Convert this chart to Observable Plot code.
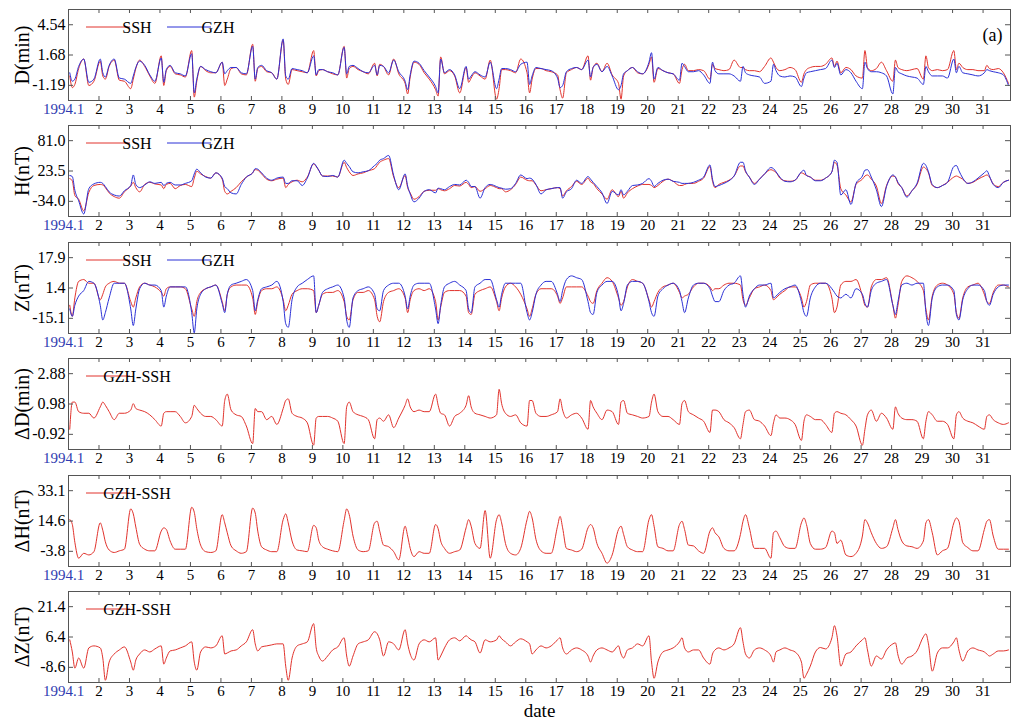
<!DOCTYPE html>
<html><head><meta charset="utf-8">
<script src="https://cdn.jsdelivr.net/npm/d3@7"></script>
<script src="https://cdn.jsdelivr.net/npm/@observablehq/plot@0.6"></script>
<style>
html,body{margin:0;padding:0;background:#fff;overflow:hidden}
#chart svg{display:block}
#chart svg, #chart svg text, #chart svg g { font-family: "Liberation Serif", "Times New Roman", serif !important; }
</style></head><body><div id="chart"></div>
<script>
// sampling hours (UT) within each day, 31 days of January 1994
const sampleHours = [1, 3, 5, 8, 12, 16, 20];
const dayTicks = [2,3,4,5,6,7,8,9,10,11,12,13,14,15,16,17,18,19,20,21,22,23,24,25,26,27,28,29,30,31];
const firstLabel = "1994.1";

const dTicks = [-1.19, 1.68, 4.54];
const hTicks = [-34.0, 23.5, 81.0];
const zTicks = [-15.1, 1.4, 17.9];
const ddTicks = [-0.92, 0.98, 2.88];
const dhTicks = [-3.8, 14.6, 33.1];
const dzTicks = [-8.6, 6.4, 21.4];

const dSSH = [
-0.3,-1.4,-1.1,0.4,1.3,-1.2,-0.8,
1.1,-0.3,-0.6,0.6,1.2,-0.7,-0.8,
-1.5,-0.6,0.4,1.2,0.6,-0.3,-1.0,
1.6,-1.2,0.2,0.6,-0.1,-0.2,-0.4,
2.1,-2.3,-0.8,0.6,0.2,0.0,0.0,
1.0,-1.2,-0.6,0.4,0.5,-0.1,-0.2,
2.7,-0.8,0.4,0.6,0.1,0.0,-0.6,
3.1,-0.6,-1.1,0.3,0.2,0.1,0.0,
2.1,-0.3,0.2,0.3,0.1,-0.1,-0.2,
2.5,-0.5,0.4,0.6,0.3,0.1,-0.1,
0.9,-0.3,0.8,0.6,-0.2,1.3,-0.1,
-1.0,-2.0,-0.4,1.0,0.8,0.0,-0.6,
-1.6,-2.2,1.5,-0.1,0.2,-0.3,-1.9,
0.5,-0.9,-0.5,0.0,-0.3,-0.6,1.2,
-2.5,-1.5,0.3,0.3,0.2,0.0,1.3,
0.0,-1.9,-0.6,0.4,0.4,0.2,0.1,
-0.2,-1.6,-2.4,0.0,0.3,0.5,0.3,
1.6,-0.7,0.5,0.9,0.1,0.9,-0.2,
-1.0,-2.5,-0.3,0.2,0.5,0.0,-0.1,
0.8,1.5,-0.9,0.4,0.2,0.0,-0.1,
-1.0,0.3,0.8,0.2,0.2,0.3,0.2,
-0.6,0.8,0.4,0.3,0.2,0.3,1.2,
0.5,0.5,0.3,0.2,0.2,0.1,0.6,
1.4,1.0,0.5,0.2,0.3,0.5,0.3,
-0.9,-0.1,0.3,0.5,0.6,0.6,0.8,
1.4,0.6,1.1,0.0,0.5,0.3,-0.3,
-0.5,2.1,0.5,0.2,0.4,1.0,0.2,
-0.8,1.2,0.5,0.3,0.2,0.3,0.4,
-0.6,1.6,0.5,0.2,0.3,0.2,0.3,
2.1,0.3,0.9,0.5,0.3,0.3,0.2,
0.2,0.7,0.4,0.3,0.4,0.0,-1.0];

const dGZH = [
0.0,-0.8,-0.6,0.6,1.3,-0.9,-0.6,
1.3,0.0,-0.4,0.7,1.3,-0.5,-0.6,
-1.0,-0.3,0.5,1.1,0.7,-0.2,-0.8,
1.4,-0.9,0.3,0.7,0.0,-0.1,-0.3,
1.8,-1.9,-0.6,0.6,0.3,0.1,0.0,
1.0,-0.1,0.2,0.5,0.5,0.0,-0.1,
2.5,-0.6,0.5,0.7,0.2,0.0,-0.6,
3.2,-0.3,-0.6,0.4,0.3,0.2,0.0,
1.6,-0.2,0.3,0.3,0.1,0.0,-0.2,
2.4,-0.1,0.6,0.7,0.4,0.1,0.0,
0.7,-0.2,0.7,0.6,0.0,1.2,0.1,
-0.8,-1.6,-0.2,1.1,0.9,0.2,-0.4,
-1.3,-1.9,1.3,0.0,0.3,-0.2,-1.5,
0.6,-0.6,-0.3,0.1,-0.2,-0.4,1.0,
-1.5,-0.6,0.4,0.4,0.3,0.1,0.8,
1.0,-1.1,-0.3,0.5,0.4,0.3,0.2,
-0.5,-1.4,-1.2,0.1,0.4,0.5,0.3,
1.2,-0.4,0.5,0.8,0.1,0.6,-0.3,
-1.6,-1.2,-0.1,0.2,0.5,0.1,-0.1,
1.0,1.9,-0.6,0.5,0.2,0.0,-0.1,
-0.7,0.9,0.6,0.1,0.1,0.2,-0.2,
-1.0,1.0,0.2,-0.1,-0.1,-0.1,-0.3,
-0.8,0.6,0.0,-0.2,-0.3,-0.4,-1.0,
-0.8,0.8,0.2,-0.3,-0.4,-0.3,-0.4,
-1.3,-0.5,0.0,0.1,0.2,0.3,0.4,
1.2,0.5,0.9,-0.2,0.3,0.0,-0.8,
-1.5,1.0,0.4,0.1,0.1,0.0,-0.3,
-2.0,0.5,0.1,-0.1,-0.3,-0.4,-0.5,
-1.1,0.6,0.1,-0.3,-0.3,-0.3,-0.5,
1.3,0.0,0.6,0.0,-0.1,-0.2,-0.3,
0.0,0.3,0.2,0.1,0.0,-0.2,-1.2];

const hSSH = [
9,5,-23,-30,-52,-17,-4,
-2,-3,-8,-18,-25,-28,-16,
-5,2,-8,-16,-2,2,-1,
-3,-10,-2,0,-10,-4,-2,
-6,10,23,18,13,10,20,
8,-15,-20,-15,-8,3,12,
20,26,25,18,8,5,8,
10,-8,-2,3,6,3,12,
37,32,25,14,14,14,12,
40,30,22,15,18,20,24,
28,34,40,44,47,12,-8,
15,-8,-18,-30,-25,-15,-13,
-13,-10,-12,-14,-10,-4,-5,
2,-2,-8,-6,-15,-10,-4,
-8,-10,-10,-16,-12,-2,12,
6,5,5,-3,-14,-12,-10,
-8,-10,-24,-14,-6,4,-2,
10,3,0,-10,-20,-30,-12,
-25,-15,-28,-18,-10,-5,-2,
-2,-4,-8,-4,4,8,4,
-4,-4,-2,0,0,4,10,
32,4,-8,-2,2,6,14,
33,33,22,12,0,8,18,
26,24,21,10,5,4,6,
20,18,15,12,6,6,10,
22,40,35,-10,-22,-35,-2,
8,14,16,8,-5,-38,-4,
14,12,0,-8,-24,-14,-2,
31,28,20,-4,-8,-4,2,
12,14,12,8,0,2,8,
14,16,12,-1,-6,2,6];

const hGZH = [
15,13,-13,-33,-58,-10,-1,
2,0,-6,-16,-22,-24,-14,
-4,16,-2,-8,-3,3,0,
2,-4,0,2,-3,-3,0,
5,18,27,20,12,10,20,
10,-6,-10,-18,-20,-2,12,
20,28,27,20,10,6,10,
12,0,0,5,5,-4,10,
38,33,25,14,13,15,12,
44,38,32,22,20,22,24,
34,38,44,47,53,15,-12,
18,-5,-20,-35,-28,-15,-12,
-18,-9,-10,-12,-6,-2,-3,
6,2,-6,-6,-28,-8,-2,
-6,-8,-9,-11,-10,0,16,
9,10,8,-2,-20,-12,-10,
-8,-8,-28,-16,-10,6,0,
13,8,2,-6,-18,-38,-15,
-22,-12,-22,-15,-4,-3,0,
9,4,-6,0,6,8,4,
2,0,0,0,2,6,12,
35,8,-6,-4,0,5,14,
40,40,24,12,-2,8,18,
30,28,22,12,4,3,6,
22,25,15,12,5,5,10,
22,44,40,-22,-12,-40,0,
14,25,26,12,-12,-44,-6,
16,12,2,-8,-26,-14,0,
38,34,22,-2,-8,-4,2,
32,34,24,10,0,3,10,
20,24,14,-2,-8,2,6];

const zSSH = [
-8,-14,-4,5,6,4,4,
-5,-2,2,4,5,4,4,
-6,-9,-4,2,4,3,2,
-1,-3,1,2,2,2,1,
-10,-14,-6,-1,1,2,3,
-6,-11,-2,2,3,3,3,
-4,-13,-6,0,1,1,2,
-5,-11,-8,-2,0,1,1,
0,-12,-8,-2,-1,-1,0,
-6,-14,-16,-5,-1,-1,0,
-5,-14,-17,-6,-1,0,1,
-4,-12,-5,0,1,0,1,
-6,-16,-9,-1,0,0,0,
-3,-12,-13,-2,0,1,2,
-6,-11,-4,2,4,2,-2,
-10,-14,-10,-2,1,1,1,
-3,-7,-4,2,2,2,2,
-3,-6,-7,0,4,7,5,
-4,-8,-6,2,6,5,4,
-5,-9,-6,-1,2,3,4,
-1,-4,-3,-2,2,4,4,
2,0,1,1,3,4,4,
3,-5,-8,-4,1,2,3,
0,-5,-4,-2,0,2,2,
-4,-9,-6,3,4,4,4,
-4,-12,-9,3,5,5,6,
-3,-8,-9,2,6,6,7,
-8,-15,-8,5,8,7,5,
0,-10,-16,-3,3,4,3,
-2,-12,-15,-4,2,3,4,
-2,-6,-7,-1,3,3,2];

const zGZH = [
-10,-14,-8,-3,0,5,4,
-8,-16,-12,-4,4,4,4,
-10,-19,-10,1,4,3,3,
0,-9,-3,2,2,2,2,
-12,-23,-10,-2,1,2,3,
-7,-12,-2,3,4,5,6,
0,-11,-5,1,2,3,5,
-6,-18,-20,-5,2,4,6,
8,-12,-8,-1,1,2,3,
-4,-16,-20,-4,0,1,2,
-2,-10,-11,0,3,4,4,
-3,-10,-3,3,4,4,4,
-10,-18,-8,2,4,5,3,
0,-10,-12,2,4,6,6,
-5,-9,-2,4,4,4,4,
-12,-16,-12,-2,3,5,5,
-2,-6,0,6,8,7,6,
-6,-12,-13,-1,3,5,5,
-3,-11,-7,3,5,5,4,
-6,-12,-14,-3,1,3,4,
0,-6,-12,-4,3,4,4,
1,-3,-6,-6,0,3,4,
8,-2,-9,-3,1,3,3,
4,-4,-3,-1,1,2,3,
-6,-12,-14,-4,2,4,4,
1,-1,-3,-4,-2,-4,1,
-2,-7,-9,0,4,5,6,
-8,-13,-6,3,4,3,4,
4,-12,-19,-4,2,3,3,
0,-13,-16,-5,1,3,3,
0,-6,-8,-2,2,3,3];

const dDiff = [
-0.6,1.1,1.1,0.5,0.4,0.4,0.1,
0.8,1.1,0.9,0.5,0.0,0.4,0.4,
0.6,1.0,0.7,0.6,0.5,0.3,0.0,
-0.4,0.4,0.5,0.5,0.5,0.2,-0.2,
0.2,0.9,0.7,0.4,0.2,0.2,0.0,
-0.4,1.2,1.6,0.6,0.3,0.2,-0.4,
-1.5,0.7,0.5,0.5,0.0,0.2,-0.3,
0.7,1.2,1.3,0.4,0.2,0.1,-0.2,
-1.6,0.1,0.2,0.2,0.2,0.1,-0.1,
-1.5,0.8,1.1,0.5,0.3,0.2,0.0,
-1.2,0.0,0.1,-0.1,0.3,-0.5,0.1,
0.9,1.3,0.8,0.5,0.6,0.5,0.5,
1.6,0.9,0.4,0.3,-0.4,0.2,0.4,
0.9,1.5,0.8,0.4,0.3,0.2,0.1,
0.3,1.9,1.0,0.4,0.2,0.3,-0.2,
-0.4,1.2,1.2,0.4,0.2,0.2,0.3,
0.5,1.3,0.6,0.1,0.3,0.4,0.1,
-0.6,1.2,0.8,0.4,0.0,0.6,0.5,
-0.3,1.1,1.2,0.4,0.3,0.2,0.1,
0.2,1.1,1.6,0.5,0.2,0.2,0.0,
-0.3,1.0,1.2,0.5,0.3,0.1,-0.1,
-0.8,0.6,0.6,0.5,0.0,-0.2,-0.5,
-1.2,-0.3,0.5,0.6,0.0,-0.1,-0.4,
-1.0,-0.2,0.3,0.1,0.1,0.0,-0.3,
-1.3,-0.1,0.3,0.2,0.0,0.0,-0.3,
-0.8,0.4,0.5,0.4,0.3,0.0,-0.4,
-1.6,-0.6,0.3,0.6,-0.1,0.4,0.1,
-0.6,0.8,0.4,0.1,0.0,0.0,-0.1,
-1.2,-0.1,0.5,0.3,-0.1,-0.1,-0.3,
-1.2,0.3,0.5,0.1,-0.1,-0.2,-0.4,
-0.6,0.2,0.3,0.0,-0.2,-0.3,-0.2];

const hDiff = [
15.6,12.6,1.7,-8,-5,-6,-4,
13.5,9,2,-3,-4.5,-3.5,-2.5,
22,19,11,0.5,-2.5,-3.5,-3.5,
8.5,10.5,9.5,2.5,-2.5,-2.5,-2.5,
23,20,10,0,-4,-4.5,-3.5,
18.5,13.5,7.5,-0.5,-3.5,-5,-4,
22.5,19.5,8.5,-1,-3,-4,-4,
15.5,19,13.5,2.5,-3,-3.5,-4,
12,10.5,3,-1,-2.5,-3.5,-4,
15,22,18.5,5.5,-3,-4,-3.5,
13.5,14.5,8.5,0,-1,-4,-9,
11.5,5.5,-2,-7,-4,-5,-5,
12.5,10,2.5,-2,-5,-4,-3,
10.5,15.5,11.5,1,-2,21,-8,
15.5,18.5,13.5,1,-5,-6,-2,
15.5,20.5,16.5,3.5,-3.5,-5,-5,
11.5,17.5,10.5,-2,-3,-4,-2.5,
10.5,12.5,10.5,1,-5,-11,-6,
9.5,11.5,6.5,-1,-3,-4,-4,
15.5,18.5,11.5,-1,-2,-3.5,-3.5,
12.5,14.5,9.5,0,-0.5,-3.5,-5,
8.5,10.5,7.5,5,-2,-3.5,-3.5,
6.5,14.5,18.5,10.5,-2,-2,-2,
-8,7.5,8.5,4.5,-1,-2,-2,
13.5,16.5,12.5,1,-2.5,-2.5,-1.5,
8.5,7.5,1,3,-6,-7,-5,
5.5,15.5,13.5,7.5,1,-2,-1,
10.5,15.5,9.5,2.5,-0.5,-1,-2,
2.5,13.5,15.5,7.5,-6,-3.5,-2,
13.5,16.5,14.5,1.5,-1.5,-3.5,-3.5,
9.5,14.5,15.5,5.5,-2.5,-2.5,-2.5];

const zDiff = [
5,-1,-9,-4,-9,1,2,
1,-4,-15,-6,-2,0,1.5,
-6,-10,-5,-2,0,-1,0.5,
2,-7,-4,-0.5,0,1,2,
4,-6,-10,-1,1.5,1,2,
7,-2,-1.5,-0.5,0,2,4,
10,3,-0.5,1.5,2,2.5,3,
3,-8,-15,-4,2,3,4,
13,1,-3,-5.5,-3,0,1.5,
6,-3,-8,-3,3,4,5,
9,8,5,-3,4,3,0,
10,3,-2,-5,3,5,4,
6,-5,-3,1,5,6,4.5,
7,6,5,4,-1.5,5,4,
5,7,5.5,4,2,4,5.5,
4,3,-2,0,2,1,2,
5,6,1,-2,0,1,0,
-3,-6,-3,0,1,0,-1,
2,-2,-4,0,1,3,2,
7,-6,-14,-6,-1,0,1,
4,6,1,-1,0,0,-4,
-7,-2,0,1,0,1,3,
11,4,-2,-4,0,1,0,
-3,-6,-1,0,1,0,-1,
-6,-14,-12,-8,-1,1.2,0.5,
6,12,7,-8,-2,-1,2,
5,6,0,-8,-3,-4.5,0,
3,3.5,-2.5,-7,-4,-3,-0.5,
6.5,8,3,-10.5,-1.5,1,1,
4,6,0,-5.5,-0.5,1,0,
-1,-2,-3,-2,-0.5,-0.5,0];

// time index (fractional day of month) for every sample
const times = [];
for (let d = 1; d <= 31; d++) for (const h of sampleHours) times.push(d + h / 24);

const RED = "#e1322c", BLUE = "#2b30d6", LABELBLUE = "#2f3bb0", AXIS = "#555";

const panels = [
  {label: "D(min)", series: [{name: "SSH", values: dSSH, color: RED}, {name: "GZH", values: dGZH, color: BLUE}], domain: [-2.62, 5.98], ticks: dTicks, digits: 2, height: 116, tag: "(a)"},
  {label: "H(nT)", series: [{name: "SSH", values: hSSH, color: RED}, {name: "GZH", values: hGZH, color: BLUE}], domain: [-62.75, 109.75], ticks: hTicks, digits: 1, height: 117},
  {label: "Z(nT)", series: [{name: "SSH", values: zSSH, color: RED}, {name: "GZH", values: zGZH, color: BLUE}], domain: [-23.35, 26.15], ticks: zTicks, digits: 1, height: 116},
  {label: "ΔD(min)", series: [{name: "GZH-SSH", values: dDiff, color: RED}], domain: [-1.87, 3.83], ticks: ddTicks, digits: 2, height: 117},
  {label: "ΔH(nT)", series: [{name: "GZH-SSH", values: hDiff, color: RED}], domain: [-13.03, 42.33], ticks: dhTicks, digits: 1, height: 116},
  {label: "ΔZ(nT)", series: [{name: "GZH-SSH", values: zDiff, color: RED}], domain: [-16.1, 28.9], ticks: dzTicks, digits: 1, height: 145, xTitle: "date"}
];

const W = 1011, ML = 68, MR = 1, MT = 9, FH = 91;
const frameW = W - ML - MR;
const FONT = '"Liberation Serif", "Times New Roman", serif';

const container = document.getElementById("chart");
panels.forEach(p => {
  const MB = p.height - MT - FH;
  const marks = [
    ...p.series.map(s => Plot.line(s.values, {x: (d, i) => times[i], y: d => d, stroke: s.color, strokeWidth: 1, curve: "monotone-x", clip: true})),
    Plot.frame({stroke: AXIS}),
    Plot.tickX(dayTicks, {x: d => d, insetBottom: FH - 4, stroke: AXIS}),
    Plot.tickX(dayTicks, {x: d => d, insetTop: FH - 4, stroke: AXIS}),
    Plot.tickY(p.ticks, {y: d => d, insetRight: frameW - 5, stroke: AXIS}),
    Plot.tickY(p.ticks, {y: d => d, insetLeft: frameW - 5, stroke: AXIS}),
    Plot.axisY(p.ticks, {tickSize: 0, tickPadding: 3, tickFormat: d => d.toFixed(p.digits), fontSize: 16, label: null}),
    Plot.axisX(dayTicks, {tickSize: 0, tickPadding: 3, tickFormat: d => String(d), fontSize: 15, label: null}),
    Plot.text([1], {x: d => d, frameAnchor: "bottom", text: () => firstLabel, dx: -5, dy: 3, lineAnchor: "top", textAnchor: "middle", fill: LABELBLUE, fontSize: 15}),
    Plot.text([p.label], {frameAnchor: "left", dx: -46, rotate: -90, textAnchor: "middle", lineAnchor: "middle", fontSize: 20})
  ];
  if (p.tag) marks.push(Plot.text([p.tag], {frameAnchor: "top-right", dx: -18, dy: 19, textAnchor: "middle", fontSize: 18}));
  if (p.xTitle) marks.push(Plot.text([p.xTitle], {frameAnchor: "bottom", dy: 34, textAnchor: "middle", fontSize: 19}));

  const svg = Plot.plot({
    width: W, height: p.height,
    marginLeft: ML, marginRight: MR, marginTop: MT, marginBottom: MB,
    x: {domain: [1, 31.9]},
    y: {domain: p.domain},
    style: {fontFamily: FONT, fontSize: "15px", background: "white", color: "black"},
    marks
  });
  // legend inside the panel (top-left)
  const g = d3.select(svg).append("g").attr("font-size", 16);
  const ly = MT + 18;
  p.series.forEach((s, i) => {
    const x0 = 86 + i * 81;
    g.append("line").attr("x1", x0).attr("x2", x0 + 44).attr("y1", ly).attr("y2", ly).attr("stroke", s.color).attr("stroke-width", 1);
    g.append("text").attr("x", x0 + 51).attr("y", ly).attr("dy", "0.35em").attr("fill", "black").text(s.name);
  });
  // make every text use the serif face
  d3.select(svg).selectAll("g, text").attr("font-family", FONT).style("font-family", FONT);
  d3.select(svg).selectAll("text").attr("font-variant", "normal").style("font-variant", "normal");
  container.appendChild(svg);
});
</script></body></html>
